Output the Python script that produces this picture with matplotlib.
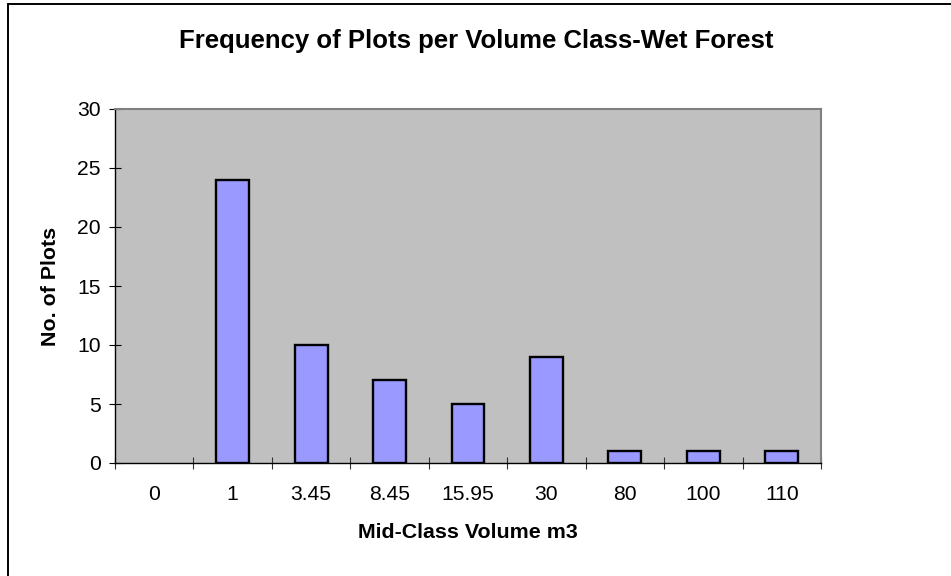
import matplotlib

matplotlib.use("Agg")
import matplotlib.pyplot as plt
from matplotlib.patches import Rectangle
import numpy as np

plt.rcParams["font.family"] = ["Liberation Sans", "DejaVu Sans"]

categories = ["0", "1", "3.45", "8.45", "15.95", "30", "80", "100", "110"]
plot_counts = [0, 24, 10, 7, 5, 9, 1, 1, 1]

W, H = 951, 576
fig = plt.figure(figsize=(W / 100, H / 100), dpi=100)
fig.patch.set_facecolor("white")

# outer chart border (left and top only visible in the crop)
fig.add_artist(Rectangle((8 / W, -0.1), 1.2, (576 - 4) / H + 0.1,
                         transform=fig.transFigure, fill=False,
                         edgecolor="black", linewidth=1.4))

ax = fig.add_axes([115 / W, (H - 463) / H, 706 / W, 354 / H])
ax.set_facecolor("#c0c0c0")

x = np.arange(len(categories))
# Excel draws nothing for a zero-height bar
edges = ["black" if v > 0 else "none" for v in plot_counts]
ax.bar(x, plot_counts, width=0.42, color="#9999ff", edgecolor=edges,
       linewidth=1.7, zorder=3)

ax.set_xlim(-0.5, len(categories) - 0.5)
ax.set_ylim(0, 30)
ax.set_yticks(range(0, 31, 5))
ax.set_xticks(x)
ax.set_xticklabels(categories)
ax.set_xticks(np.arange(-0.5, len(categories), 1), minor=True)
ax.tick_params(axis="x", which="major", length=0, pad=16, labelsize=15.2)
ax.tick_params(axis="x", which="minor", direction="inout", length=9,
               width=0.8, color="#333333")
ax.tick_params(axis="y", direction="inout", length=8.5, width=0.8,
               labelsize=15.2, pad=6)

for side in ["top", "right"]:
    ax.spines[side].set_color("#808080")
    ax.spines[side].set_linewidth(1.5)
for side in ["left", "bottom"]:
    ax.spines[side].set_color("black")
    ax.spines[side].set_linewidth(1.0)

fig.text(476 / W, 1 - 41 / H, "Frequency of Plots per Volume Class-Wet Forest",
         ha="center", va="center", fontsize=18.5, fontweight="bold")
fig.text(50 / W, 1 - 286 / H, "No. of Plots", ha="center", va="center",
         rotation=90, fontsize=15.4, fontweight="bold")
fig.text(468 / W, 1 - 532 / H, "Mid-Class Volume m3", ha="center",
         va="center", fontsize=15.4, fontweight="bold")

fig.savefig("out.png", dpi=100)
